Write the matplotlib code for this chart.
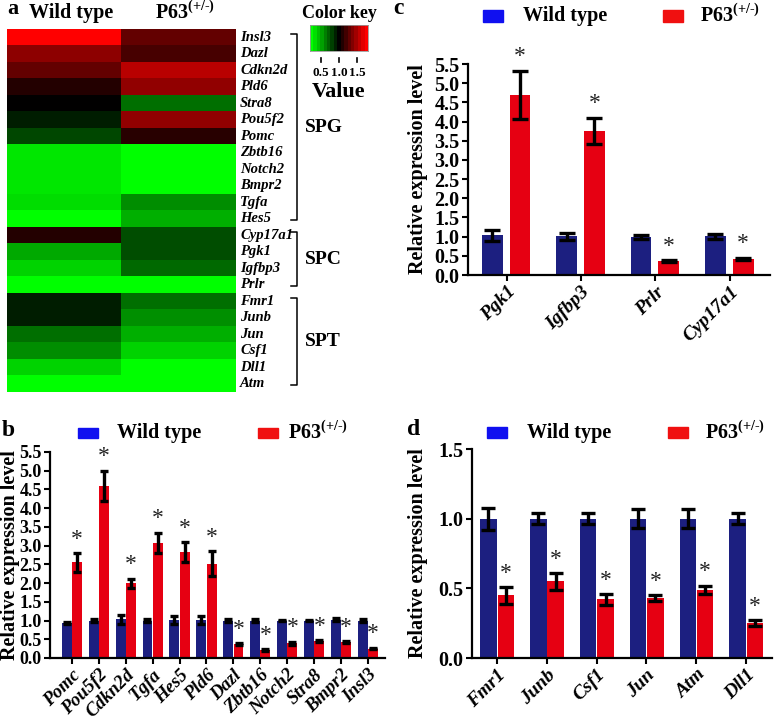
import matplotlib
matplotlib.use('Agg')
import matplotlib.pyplot as plt
import numpy as np
from matplotlib.colors import LinearSegmentedColormap
from matplotlib.patches import Rectangle

plt.rcParams['font.family'] = ['Liberation Serif', 'DejaVu Serif']
plt.rcParams['font.weight'] = 'bold'
plt.rcParams['mathtext.fontset'] = 'custom'
plt.rcParams['mathtext.rm'] = 'Liberation Serif'
plt.rcParams['mathtext.bf'] = 'Liberation Serif:bold'

# ---- heatmap data (a) ----
heat_genes = ['Insl3', 'Dazl', 'Cdkn2d', 'Pld6', 'Stra8', 'Pou5f2', 'Pomc',
              'Zbtb16', 'Notch2', 'Bmpr2', 'Tgfa', 'Hes5',
              'Cyp17a1', 'Pgk1', 'Igfbp3', 'Prlr',
              'Fmr1', 'Junb', 'Jun', 'Csf1', 'Dll1', 'Atm']
heat_wt = [1.80, 1.44, 1.31, 1.11, 1.00, 0.91, 0.78, 0.28, 0.28, 0.28, 0.31, 0.20,
           1.11, 0.47, 0.34, 0.20, 0.91, 0.91, 0.65, 0.56, 0.34, 0.20]
heat_ko = [1.31, 1.22, 1.58, 1.45, 0.65, 1.45, 1.13, 0.20, 0.20, 0.20, 0.56, 0.45,
           0.76, 0.76, 0.67, 0.20, 0.65, 0.55, 0.45, 0.34, 0.20, 0.20]
groups = ['SPG', 'SPC', 'SPT']
group_rows = [(0, 11), (12, 15), (16, 21)]

# ---- bar data (b) ----
b_genes = ['Pomc', 'Pou5f2', 'Cdkn2d', 'Tgfa', 'Hes5', 'Pld6', 'Dazl', 'Zbtb16',
           'Notch2', 'Stra8', 'Bmpr2', 'Insl3']
b_wt = [0.93, 1.00, 1.03, 1.00, 1.02, 1.02, 1.00, 1.00, 1.00, 1.00, 1.02, 1.00]
b_wt_err = [0.03, 0.05, 0.12, 0.03, 0.10, 0.10, 0.03, 0.03, 0.02, 0.02, 0.04, 0.04]
b_ko = [2.55, 4.60, 2.00, 3.08, 2.83, 2.52, 0.38, 0.21, 0.40, 0.45, 0.42, 0.25]
b_ko_err = [0.25, 0.40, 0.12, 0.27, 0.27, 0.33, 0.02, 0.02, 0.04, 0.03, 0.03, 0.02]

# ---- bar data (c) ----
c_genes = ['Pgk1', 'Igfbp3', 'Prlr', 'Cyp17a1']
c_wt = [1.03, 1.01, 1.00, 1.01]
c_wt_err = [0.15, 0.09, 0.05, 0.07]
c_ko = [4.70, 3.76, 0.37, 0.42]
c_ko_err = [0.63, 0.34, 0.02, 0.03]

# ---- bar data (d) ----
d_genes = ['Fmr1', 'Junb', 'Csf1', 'Jun', 'Atm', 'Dll1']
d_wt = [1.00, 1.00, 1.00, 1.00, 1.00, 1.00]
d_wt_err = [0.08, 0.04, 0.04, 0.07, 0.07, 0.04]
d_ko = [0.45, 0.55, 0.42, 0.43, 0.49, 0.25]
d_ko_err = [0.06, 0.06, 0.04, 0.02, 0.03, 0.02]

W, H = 774, 721
WT_COL = '#1c1f80'
KO_COL = '#e60012'
KO_LABEL = r'P63$^{(+/\text{-})}$'

fig = plt.figure(figsize=(W / 100, H / 100), dpi=100)


def px(l, t, r, b):
    return [l / W, 1 - b / H, (r - l) / W, (b - t) / H]


def fx(x):
    return x / W


def fy(y):
    return 1 - y / H


cmap = LinearSegmentedColormap.from_list('gkr', [(0, 1, 0), (0, 0, 0), (1, 0, 0)])

# ---------------- panel a ----------------
ax = fig.add_axes(px(7, 29, 236, 392))
mat = np.array([heat_wt, heat_ko]).T
ax.imshow(mat, cmap=cmap, vmin=0.2, vmax=1.8, aspect='auto',
          extent=(0, 2, len(heat_genes) - 0.5, -0.5), interpolation='nearest')
ax.set_xlim(0, 2)
ax.set_axis_off()
for i, g in enumerate(heat_genes):
    ax.text(2.035, i, g, fontsize=10.5, style='italic', weight='bold',
            va='center', ha='left', clip_on=False)
for name, (r0, r1) in zip(groups, group_rows):
    y0, y1 = r0 - 0.2, r1 + 0.1
    ax.plot([2.48, 2.535, 2.535, 2.48], [y0, y0, y1, y1], color='black',
            lw=1.1, clip_on=False)
    ax.text(2.6, (y0 + y1) / 2, name, fontsize=14, weight='bold',
            va='center', ha='left', clip_on=False)

fig.text(fx(7), fy(9), 'a', fontsize=16, weight='bold', va='center', ha='left')
fig.text(fx(71), fy(13), 'Wild type', fontsize=14.5, weight='bold', va='center', ha='center')
fig.text(fx(185), fy(13), KO_LABEL, fontsize=14.5, weight='bold',
         va='center', ha='center')

# colour key
kax = fig.add_axes(px(310, 25, 368, 51))
kvals = np.linspace(0.2, 1.8, 17)[None, :]
kax.imshow(kvals, cmap=cmap, vmin=0.2, vmax=1.8, aspect='auto',
           extent=(0.2, 1.8, 0, 1), interpolation='nearest')
kax.set_xticks([])
kax.set_yticks([])
for s in kax.spines.values():
    s.set_color('#999999')
    s.set_linewidth(0.6)
for v in [0.5, 1.0, 1.5]:
    kax.plot([v, v], [-0.27, -0.42], color='black', lw=1.2, clip_on=False,
             transform=kax.get_xaxis_transform())
    kax.text(v, -0.85, '%.1f' % v, fontsize=9.5, weight='bold', ha='center',
             va='center', transform=kax.get_xaxis_transform())
fig.text(fx(339), fy(13), 'Color key', fontsize=13, weight='bold', ha='center', va='center')
fig.text(fx(339), fy(92), 'Value', fontsize=16, weight='bold', ha='center', va='center')


# ---------------- bar panels ----------------
def bar_panel(rect, genes, wt, wt_err, ko, ko_err, off_wt, off_ko, width,
              xlim, ylim, yticks, star_pts, cap, ylab_x, tick_fs=14.5, xfs=14):
    ax = fig.add_axes(rect)
    x = np.arange(len(genes))
    ax.bar(x + off_wt, wt, width, color=WT_COL, zorder=2)
    ax.bar(x + off_ko, ko, width, color=KO_COL, zorder=2)
    ax.errorbar(x + off_wt, wt, yerr=wt_err, fmt='none', ecolor='black',
                elinewidth=2.4, capsize=cap, capthick=2.4, zorder=3)
    ax.errorbar(x + off_ko, ko, yerr=ko_err, fmt='none', ecolor='black',
                elinewidth=2.4, capsize=cap, capthick=2.4, zorder=3)
    for xi, v, e in zip(x, ko, ko_err):
        ax.annotate('*', (xi + off_ko, v + e), xytext=(0, star_pts),
                    textcoords='offset points', ha='center', va='center',
                    fontsize=17, weight='normal', color='#222222')
    ax.set_xlim(*xlim)
    ax.set_ylim(*ylim)
    ax.set_yticks(yticks)
    ax.set_yticklabels(['%.1f' % t for t in yticks], fontsize=tick_fs, weight='bold')
    ax.set_xticks(x)
    ax.set_xticklabels(genes, rotation=45, ha='right', va='top',
                       rotation_mode='anchor', fontsize=xfs, weight='bold',
                       style='italic')
    ax.spines['top'].set_visible(False)
    ax.spines['right'].set_visible(False)
    for s in ('left', 'bottom'):
        ax.spines[s].set_linewidth(1.6)
    ax.tick_params(axis='both', direction='out', length=4, width=1.5, pad=2)
    p = ax.get_position()
    fig.text(fx(ylab_x), p.y0 + p.height / 2, 'Relative expression level',
             fontsize=14.5, weight='bold', rotation=90, ha='center', va='center')
    return ax


def legend_at(y, bx, btx, rx, rtx, h=10):
    fig.add_artist(Rectangle((fx(bx), fy(y + h / 2)), 20 / W, h / H,
                             transform=fig.transFigure, color='#1010f0'))
    fig.text(fx(btx), fy(y), 'Wild type', fontsize=14.5, weight='bold', va='center')
    fig.add_artist(Rectangle((fx(rx), fy(y + h / 2)), 20 / W, h / H,
                             transform=fig.transFigure, color='#f01010'))
    fig.text(fx(rtx), fy(y), KO_LABEL, fontsize=14.5, weight='bold', va='center')


ticks55 = np.arange(0, 5.51, 0.5)

bar_panel(px(50, 452, 385, 658), b_genes, b_wt, b_wt_err, b_ko, b_ko_err,
          -0.19, 0.19, 0.37, (-0.81, 11.63), (0, 5.5), ticks55, 10, 3, 10,
          tick_fs=13, xfs=13.5)
fig.text(fx(2), fy(431), 'b', fontsize=17, weight='bold', va='center', ha='left')
legend_at(433, 78, 117, 258, 288)

bar_panel(px(468, 64, 770, 275), c_genes, c_wt, c_wt_err, c_ko, c_ko_err,
          -0.195, 0.18, 0.28, (-0.52, 3.54), (0, 5.5), ticks55, 10, 6, 418)
fig.text(fx(393), fy(9), 'c', fontsize=17, weight='bold', va='center', ha='left')
legend_at(16, 483, 523, 663, 700, h=12)

bar_panel(px(472, 449, 772, 658), d_genes, d_wt, d_wt_err, d_ko, d_ko_err,
          -0.17, 0.18, 0.33, (-0.5, 5.52), (0, 1.5), [0, 0.5, 1.0, 1.5], 10, 5, 418)
fig.text(fx(407), fy(430), 'd', fontsize=17, weight='bold', va='center', ha='left')
legend_at(433, 487, 527, 668, 705, h=11)

fig.savefig('out.png', dpi=100)
